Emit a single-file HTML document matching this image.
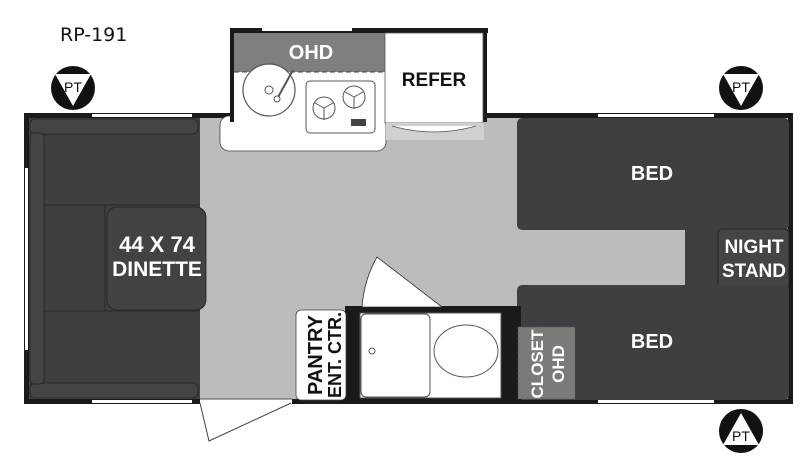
<!DOCTYPE html>
<html><head><style>html,body{margin:0;padding:0;background:#fff;width:800px;height:456px;overflow:hidden}</style></head>
<body>
<svg width="800" height="456" viewBox="0 0 800 456" xmlns="http://www.w3.org/2000/svg" font-family="'Liberation Sans', 'DejaVu Sans', sans-serif">
<rect width="800" height="456" fill="#fff"/>
<text x="60" y="41" font-size="19" fill="#111" font-family="'DejaVu Sans', sans-serif">RP-191</text>

<!-- floor -->
<rect x="24" y="114" width="769" height="290" fill="#bcbcbc"/>
<rect x="24" y="113" width="769" height="5" fill="#1a1a1a"/>
<rect x="24" y="399" width="769" height="5" fill="#1a1a1a"/>
<rect x="24" y="113" width="5" height="291" fill="#1a1a1a"/>
<rect x="788" y="113" width="5" height="291" fill="#1a1a1a"/>
<rect x="92" y="114" width="100" height="3" fill="#fff"/>
<rect x="92" y="400" width="100" height="3" fill="#fff"/>
<rect x="25" y="168" width="3" height="182" fill="#fff"/>
<rect x="598" y="114" width="116" height="3" fill="#fff"/>
<rect x="598" y="400" width="116" height="3" fill="#fff"/>

<!-- dinette -->
<rect x="29" y="118" width="171" height="281" fill="#3f3f41"/>
<rect x="30" y="119" width="168" height="15" rx="5" fill="#444446" stroke="#222" stroke-width="0.7"/>
<rect x="30" y="383" width="168" height="15" rx="5" fill="#444446" stroke="#222" stroke-width="0.7"/>
<rect x="30" y="133" width="14" height="251" rx="4" fill="#444446" stroke="#222" stroke-width="0.7"/>
<line x1="44" y1="205" x2="200" y2="205" stroke="#222" stroke-width="0.8"/>
<line x1="44" y1="311" x2="200" y2="311" stroke="#222" stroke-width="0.8"/>
<line x1="105" y1="205" x2="105" y2="311" stroke="#222" stroke-width="0.8"/>
<rect x="107" y="207" width="99" height="103" rx="10" fill="#424244" stroke="#222" stroke-width="0.8"/>
<text x="157" y="252" font-size="22" font-weight="bold" fill="#fff" text-anchor="middle">44 X 74</text>
<text x="157" y="276" font-size="21" font-weight="bold" fill="#fff" text-anchor="middle">DINETTE</text>

<!-- kitchen -->
<rect x="220" y="116" width="166" height="35" rx="9" fill="#fff" stroke="#444" stroke-width="0.8"/>
<rect x="230" y="28" width="258" height="5" fill="#1a1a1a"/>
<rect x="230" y="28" width="4" height="94" fill="#1a1a1a"/>
<rect x="483" y="28" width="4" height="94" fill="#1a1a1a"/>
<rect x="262" y="28" width="90" height="3" fill="#fff"/>
<rect x="234" y="33" width="151" height="88" fill="#fff"/>
<rect x="234" y="33" width="151" height="39" fill="#7f7f7f"/>
<line x1="234" y1="72" x2="385" y2="72" stroke="#444" stroke-dasharray="5,3"/>
<text x="311" y="59" font-size="20" font-weight="bold" fill="#fff" text-anchor="middle">OHD</text>
<rect x="385" y="33" width="98" height="90" fill="#fff" stroke="#555" stroke-width="0.8"/>
<text x="434" y="86" font-size="19" font-weight="bold" fill="#111" text-anchor="middle">REFER</text>
<rect x="386" y="123" width="98" height="17" fill="#d0d0d0"/>
<path d="M392 126 Q434 138 476 126" fill="#fff" stroke="#555" stroke-width="0.8"/>
<circle cx="269" cy="90" r="26" fill="#fff" stroke="#555" stroke-width="1.2"/>
<circle cx="269" cy="90" r="4" fill="none" stroke="#555"/>
<line x1="277" y1="99" x2="293" y2="70" stroke="#555" stroke-width="2"/>
<circle cx="277" cy="99" r="3" fill="#fff" stroke="#555"/>
<rect x="306" y="81" width="69" height="52" rx="4" fill="#fff" stroke="#555"/>
<circle cx="324" cy="108" r="11" fill="none" stroke="#555"/>
<circle cx="354" cy="97" r="11" fill="none" stroke="#555"/>
<path d="M324 108 l-9 -5 M324 108 l9 -5 M324 108 v12 M354 97 l-9 -5 M354 97 l9 -5 M354 97 v12" stroke="#555"/>
<rect x="351" y="119" width="15" height="7" fill="#444"/>

<!-- beds -->
<rect x="517" y="118" width="272" height="112" rx="5" fill="#3f3f41"/>
<text x="652" y="180" font-size="20" font-weight="bold" fill="#fff" text-anchor="middle">BED</text>
<rect x="685" y="229" width="104" height="58" fill="#3f3f41"/>
<rect x="718" y="229" width="71" height="58" rx="4" fill="#444446" stroke="#222" stroke-width="0.8"/>
<text x="754" y="253" font-size="19" font-weight="bold" fill="#fff" text-anchor="middle">NIGHT</text>
<text x="754" y="277" font-size="19" font-weight="bold" fill="#fff" text-anchor="middle">STAND</text>
<rect x="517" y="285" width="272" height="115" rx="5" fill="#3f3f41"/>
<rect x="517" y="306" width="4" height="94" fill="#1a1a1a"/>
<rect x="518" y="327" width="57" height="72" fill="#7a7a78" stroke="#555" stroke-dasharray="3,2" stroke-width="0.7"/>
<text x="652" y="348" font-size="20" font-weight="bold" fill="#fff" text-anchor="middle">BED</text>
<text transform="translate(543,364) rotate(-90)" font-size="17" font-weight="bold" fill="#fff" text-anchor="middle">CLOSET</text>
<text transform="translate(564,364) rotate(-90)" font-size="17" font-weight="bold" fill="#fff" text-anchor="middle">OHD</text>

<!-- bath -->
<rect x="345" y="306" width="172" height="94" fill="#1a1a1a"/>
<rect x="360" y="313" width="141" height="85" fill="#fff" stroke="#555"/>
<rect x="361" y="314" width="69" height="83" rx="5" fill="#fff" stroke="#555"/>
<circle cx="372" cy="351" r="3" fill="none" stroke="#555"/>
<ellipse cx="466" cy="351" rx="32" ry="26" fill="#fff" stroke="#555"/>
<path d="M362 307 L442 307 L377 257 Q364 280 362 307Z" fill="#fff" stroke="#333" stroke-width="0.8"/>
<rect x="296" y="310" width="50" height="90" rx="5" fill="#fff" stroke="#444" stroke-width="0.8"/>
<text transform="translate(322,355) rotate(-90)" font-size="20" font-weight="bold" fill="#111" text-anchor="middle">PANTRY</text>
<text transform="translate(341,355) rotate(-90)" font-size="18" font-weight="bold" fill="#111" text-anchor="middle">ENT. CTR.</text>

<!-- entry door -->
<rect x="200" y="399" width="92" height="5" fill="#fff"/>
<line x1="200" y1="399" x2="292" y2="399" stroke="#555"/>
<path d="M291 403 L209 441 Q204 420 200 403" fill="#fff" stroke="#444"/>

<!-- PT markers -->
<g fill="#111">
<circle cx="73" cy="88" r="22"/><circle cx="741" cy="88" r="22"/><circle cx="741" cy="431" r="22"/>
</g>
<g fill="#fff">
<path d="M55 74 L91 74 L73 106Z"/><path d="M723 74 L759 74 L741 106Z"/><path d="M741 413 L759 445 L723 445Z"/>
</g>
<g font-size="14" fill="#111" text-anchor="middle">
<text x="73" y="92">PT</text><text x="741" y="92">PT</text><text x="741" y="441">PT</text>
</g>
</svg>
</body></html>
